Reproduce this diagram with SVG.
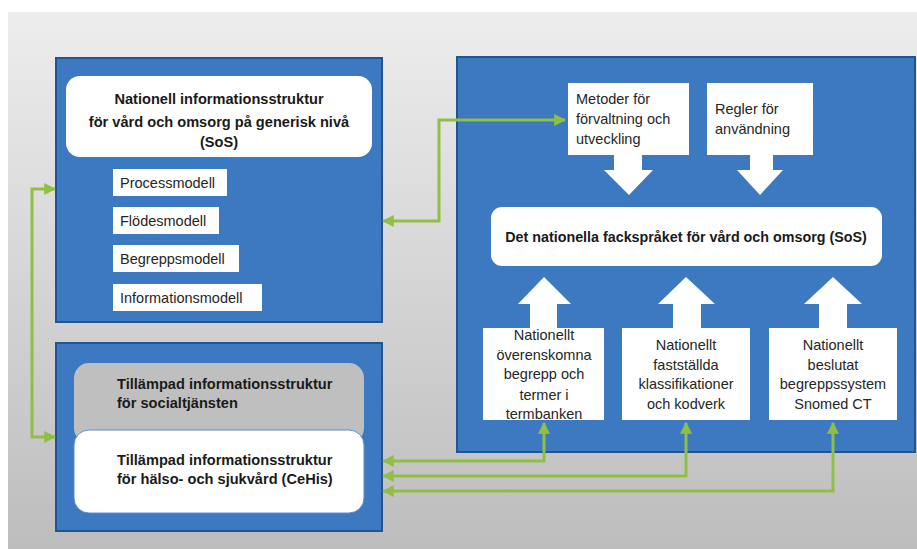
<svg xmlns="http://www.w3.org/2000/svg" width="917" height="549" viewBox="0 0 917 549">
<defs>
<linearGradient id="bg" x1="0" y1="0" x2="0" y2="1">
<stop offset="0" stop-color="#ededed"/>
<stop offset="1" stop-color="#bdbdbd"/>
</linearGradient>
<marker id="ah" viewBox="0 0 10 10" refX="9" refY="5" markerWidth="4" markerHeight="4" orient="auto-start-reverse" markerUnits="strokeWidth">
<path d="M0,0 L10,5 L0,10 z" fill="#8fc045"/>
</marker>
<style>
.blue{fill:#3d79c1;stroke:#21558f;stroke-width:2}
.wbox{fill:#ffffff}
.b{font-family:"Liberation Sans",Arial,sans-serif;font-weight:bold;font-size:14.6px;fill:#1a1a1a}
.r{font-family:"Liberation Sans",Arial,sans-serif;font-size:14.5px;fill:#262626}
.c{text-anchor:middle}
.con{fill:none;stroke:#8fc045;stroke-width:3;marker-start:url(#ah);marker-end:url(#ah)}
.big{fill:#ffffff}
</style>
</defs>
<rect x="0" y="0" width="917" height="549" fill="#ffffff"/>
<rect x="8" y="12" width="909" height="537" fill="url(#bg)"/>

<g id="generic">
<rect class="blue" x="56" y="58" width="326" height="264"/>
<rect class="wbox" x="66" y="76" width="306" height="81" rx="14"/>
<text class="b c" x="219" y="104">Nationell informationsstruktur</text>
<text class="b c" x="219" y="127">för vård och omsorg på generisk nivå</text>
<text class="b c" x="219" y="147">(SoS)</text>
</g>
<g id="processmodell">
<rect class="wbox" x="113" y="169" width="114" height="27"/>
<text class="r" x="120" y="188">Processmodell</text>
</g>
<g id="flodesmodell">
<rect class="wbox" x="113" y="207" width="106" height="27"/>
<text class="r" x="120" y="226">Flödesmodell</text>
</g>
<g id="begreppsmodell">
<rect class="wbox" x="113" y="245" width="126" height="27"/>
<text class="r" x="120" y="264">Begreppsmodell</text>
</g>
<g id="informationsmodell">
<rect class="wbox" x="113" y="284" width="149" height="27"/>
<text class="r" x="120" y="303">Informationsmodell</text>
</g>

<g id="tillampad">
<rect class="blue" x="56" y="343" width="326" height="188"/>
<rect x="74" y="363" width="290" height="80" rx="15" fill="#bfbfbf"/>
<text class="b" x="117" y="389">Tillämpad informationsstruktur</text>
<text class="b" x="117" y="408">för socialtjänsten</text>
</g>
<g id="cehis">
<rect x="74" y="430" width="290" height="83" rx="15" fill="#ffffff" stroke="#5b8fd0" stroke-width="1"/>
<text class="b" x="117" y="465">Tillämpad informationsstruktur</text>
<text class="b" x="117" y="484">för hälso- och sjukvård (CeHis)</text>
</g>

<g id="fackspraket-panel">
<rect class="blue" x="457" y="57" width="458" height="395"/>
</g>
<g id="metoder">
<rect class="wbox" x="568" y="83" width="121" height="72"/>
<text class="r" x="576" y="104">Metoder för</text>
<text class="r" x="576" y="124">förvaltning och</text>
<text class="r" x="576" y="144">utveckling</text>
<path class="big" d="M614,154 H642 V170 H653 L629,195 L604,170 H614 z"/>
</g>
<g id="regler">
<rect class="wbox" x="707" y="83" width="106" height="72"/>
<text class="r" x="715" y="114">Regler för</text>
<text class="r" x="715" y="134">användning</text>
<path class="big" d="M750,154 H773 V170 H783 L760,195 L737,170 H750 z"/>
</g>
<g id="fackspraket">
<rect class="wbox" x="491" y="207" width="391" height="59" rx="11"/>
<text class="b c" x="686" y="242" style="font-size:14.3px">Det nationella fackspråket för vård och omsorg (SoS)</text>
</g>
<g id="termbanken">
<path class="big" d="M530,329 V304 H518 L544,277 L571,304 H557 V329 z"/>
<rect class="wbox" x="483" y="328" width="121" height="92"/>
<text class="r c" x="544" y="340">Nationellt</text>
<text class="r c" x="544" y="360">överenskomna</text>
<text class="r c" x="544" y="379">begrepp och</text>
<text class="r c" x="544" y="400">termer i</text>
<text class="r c" x="544" y="419">termbanken</text>
</g>
<g id="klassifikationer">
<path class="big" d="M673,329 V304 H658 L686,277 L715,304 H701 V329 z"/>
<rect class="wbox" x="622" y="328" width="128" height="92"/>
<text class="r c" x="686" y="350">Nationellt</text>
<text class="r c" x="686" y="370">fastställda</text>
<text class="r c" x="686" y="389">klassifikationer</text>
<text class="r c" x="686" y="409">och kodverk</text>
</g>
<g id="snomed">
<path class="big" d="M819,329 V304 H804 L833,277 L862,304 H847 V329 z"/>
<rect class="wbox" x="769" y="328" width="128" height="92"/>
<text class="r c" x="833" y="350">Nationellt</text>
<text class="r c" x="833" y="370">beslutat</text>
<text class="r c" x="833" y="389">begreppssystem</text>
<text class="r c" x="833" y="409">Snomed CT</text>
</g>

<g id="connectors">
<polyline class="con" points="55,189 32,189 32,437 55,437"/>
<polyline class="con" points="383,221 439,221 439,120 565,120"/>
<polyline class="con" points="383,461 544,461 544,423"/>
<polyline class="con" points="383,476 686,476 686,423"/>
<polyline class="con" points="383,491 833,491 833,423"/>
</g>
</svg>
